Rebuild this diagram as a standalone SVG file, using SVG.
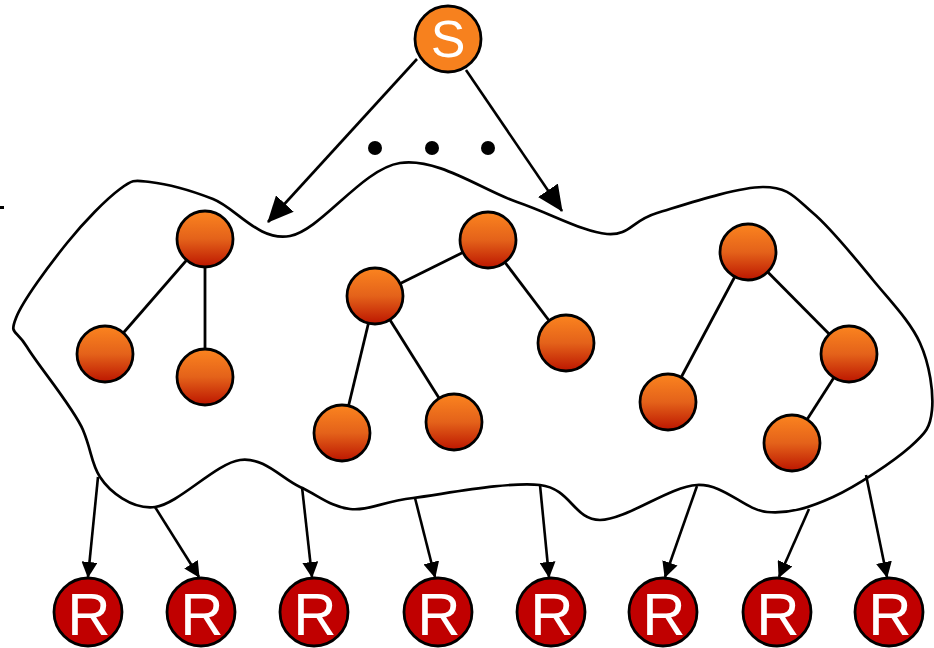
<svg xmlns="http://www.w3.org/2000/svg" width="934" height="648" viewBox="0 0 934 648">
  <defs>
    <linearGradient id="orangeBall" x1="0" y1="0" x2="0" y2="1">
      <stop offset="0" stop-color="#FB841F"/>
      <stop offset="0.5" stop-color="#E4621A"/>
      <stop offset="1" stop-color="#BC1600"/>
    </linearGradient>
    <marker id="bigHead" viewBox="0 0 26 24" refX="25" refY="12" markerWidth="26" markerHeight="24" markerUnits="userSpaceOnUse" orient="auto">
      <path d="M0,0 L26,12 L0,24 z" fill="#000"/>
    </marker>
    <marker id="smallHead" viewBox="0 0 16 16" refX="15" refY="8" markerWidth="16" markerHeight="16" markerUnits="userSpaceOnUse" orient="auto">
      <path d="M0,0 L16,8 L0,16 z" fill="#000"/>
    </marker>
  </defs>
  <style>
    .edge { stroke: #000; stroke-width: 2.8; fill: none; }
    .arrow { stroke: #000; stroke-width: 2.6; fill: none; }
    .blob { stroke: #000; stroke-width: 2.7; fill: none; }
    .ball { fill: url(#orangeBall); stroke: #000; stroke-width: 2.8; }
    .src { fill: #F7811E; stroke: #000; stroke-width: 2.8; }
    .rcv { fill: #C00000; stroke: #000; stroke-width: 2.8; }
    .lbl { font-family: "Liberation Sans", Arial, sans-serif; fill: #fff; text-anchor: middle; }
  </style>

  <rect width="934" height="648" fill="#fff"/>
  <!-- small tick at the left edge -->
  <rect x="0" y="206" width="4" height="3" fill="#000"/>

  <!-- overlay cloud enclosing the trees -->
  <path class="blob" d="M120,189 C133.8,178.8 134.5,180.3 150,182 C165.5,183.7 189.7,190 213,199 C236.3,208 258.8,242 290,236 C321.2,230 362.2,168.7 400,163 C437.8,157.3 482.5,190.2 517,202 C551.5,213.8 583.7,232.2 607,234 C630.3,235.8 631,220.8 657,213 C683,205.2 737,187 763,187 C789,187 794.7,197.5 813,213 C831.3,228.5 855.2,258.3 873,280 C890.8,301.7 910.2,321.3 920,343 C929.8,364.7 933.7,392.7 932,410 C930.3,427.3 926.5,432.5 910,447 C893.5,461.5 856.8,486.2 833,497 C809.2,507.8 789.7,514 767,512 C744.3,510 724.8,483.7 697,485 C669.2,486.3 626.2,520 600,520 C573.8,520 571.2,488.7 540,485 C508.8,481.3 444.7,494 413,498 C381.3,502 368.8,510.8 350,509 C331.2,507.2 318.3,495.2 300,487 C281.7,478.8 264.2,456.7 240,460 C215.8,463.3 178.3,504.2 155,507 C131.7,509.8 109,491 100,477 C91,463 92,451.7 83,430 C74,408.3 38.2,365.7 27,347 C15.8,328.3 9.3,335.3 16,318 C22.7,300.7 49.7,264.5 67,243 C84.3,221.5 106.2,199.2 120,189 Z"/>

  <!-- ellipsis between the source arrows -->
  <g id="ellipsis" fill="#000">
    <circle cx="375" cy="148" r="7"/>
    <circle cx="432" cy="148" r="7"/>
    <circle cx="488" cy="148" r="7"/>
  </g>

  <!-- connectors -->
  <g id="connectors">
    <line class="arrow" x1="417" y1="59" x2="268" y2="222" marker-end="url(#bigHead)"/>
    <line class="arrow" x1="466" y1="70" x2="562" y2="211" marker-end="url(#bigHead)"/>

    <line class="edge" x1="205" y1="239" x2="105" y2="354"/>
    <line class="edge" x1="205" y1="239" x2="205" y2="377"/>
    <line class="edge" x1="488" y1="240" x2="375" y2="296"/>
    <line class="edge" x1="488" y1="240" x2="566" y2="343"/>
    <line class="edge" x1="375" y1="296" x2="342" y2="433"/>
    <line class="edge" x1="375" y1="296" x2="454" y2="422"/>
    <line class="edge" x1="748" y1="252" x2="668" y2="402"/>
    <line class="edge" x1="748" y1="252" x2="849" y2="354"/>
    <line class="edge" x1="849" y1="354" x2="792" y2="443"/>

    <line class="arrow" x1="98" y1="477" x2="88" y2="577" marker-end="url(#smallHead)"/>
    <line class="arrow" x1="155" y1="507" x2="199" y2="577" marker-end="url(#smallHead)"/>
    <line class="arrow" x1="302" y1="487" x2="312" y2="577" marker-end="url(#smallHead)"/>
    <line class="arrow" x1="415" y1="498" x2="435" y2="577" marker-end="url(#smallHead)"/>
    <line class="arrow" x1="540" y1="485" x2="549" y2="577" marker-end="url(#smallHead)"/>
    <line class="arrow" x1="697" y1="486" x2="665" y2="577" marker-end="url(#smallHead)"/>
    <line class="arrow" x1="809" y1="509" x2="779" y2="577" marker-end="url(#smallHead)"/>
    <line class="arrow" x1="866" y1="475" x2="887" y2="577" marker-end="url(#smallHead)"/>
  </g>

  <!-- source -->
  <g id="source">
    <circle class="src" cx="448" cy="39" r="33"/>
    <text class="lbl" x="448" y="57" font-size="52">S</text>
  </g>

  <!-- tree nodes inside the cloud -->
  <g id="tree1-root"><circle class="ball" cx="205" cy="239" r="28"/></g>
  <g id="tree1-left"><circle class="ball" cx="105" cy="354" r="28"/></g>
  <g id="tree1-right"><circle class="ball" cx="205" cy="377" r="28"/></g>

  <g id="tree2-root"><circle class="ball" cx="488" cy="240" r="28"/></g>
  <g id="tree2-inner"><circle class="ball" cx="375" cy="296" r="28"/></g>
  <g id="tree2-right"><circle class="ball" cx="566" cy="343" r="28"/></g>
  <g id="tree2-leaf-a"><circle class="ball" cx="342" cy="433" r="28"/></g>
  <g id="tree2-leaf-b"><circle class="ball" cx="454" cy="422" r="28"/></g>

  <g id="tree3-root"><circle class="ball" cx="748" cy="252" r="28"/></g>
  <g id="tree3-left"><circle class="ball" cx="668" cy="402" r="28"/></g>
  <g id="tree3-inner"><circle class="ball" cx="849" cy="354" r="28"/></g>
  <g id="tree3-leaf"><circle class="ball" cx="792" cy="443" r="28"/></g>

  <!-- receivers -->
  <g id="r1"><circle class="rcv" cx="88" cy="612" r="34"/><text class="lbl" x="89" y="635" font-size="60">R</text></g>
  <g id="r2"><circle class="rcv" cx="201" cy="612" r="34"/><text class="lbl" x="202" y="635" font-size="60">R</text></g>
  <g id="r3"><circle class="rcv" cx="314" cy="612" r="34"/><text class="lbl" x="315" y="635" font-size="60">R</text></g>
  <g id="r4"><circle class="rcv" cx="438" cy="612" r="34"/><text class="lbl" x="439" y="635" font-size="60">R</text></g>
  <g id="r5"><circle class="rcv" cx="551" cy="612" r="34"/><text class="lbl" x="552" y="635" font-size="60">R</text></g>
  <g id="r6"><circle class="rcv" cx="663" cy="612" r="34"/><text class="lbl" x="664" y="635" font-size="60">R</text></g>
  <g id="r7"><circle class="rcv" cx="777" cy="612" r="34"/><text class="lbl" x="778" y="635" font-size="60">R</text></g>
  <g id="r8"><circle class="rcv" cx="889" cy="612" r="34"/><text class="lbl" x="890" y="635" font-size="60">R</text></g>
</svg>
